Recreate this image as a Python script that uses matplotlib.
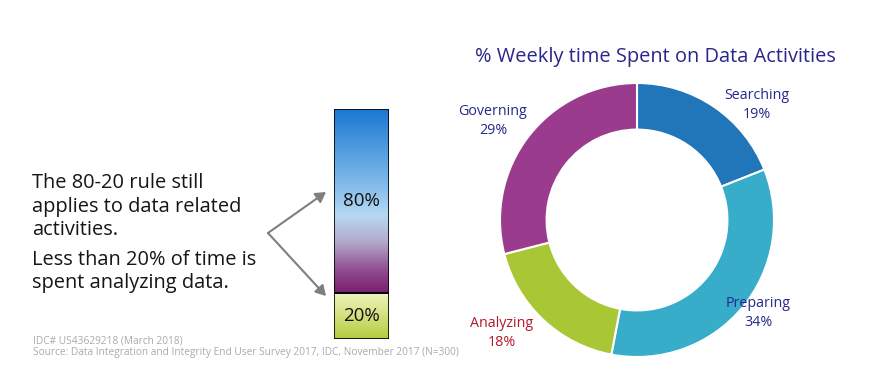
import numpy as np
import matplotlib
matplotlib.use("Agg")
import matplotlib.pyplot as plt
from matplotlib.patches import FancyArrowPatch
from matplotlib.colors import LinearSegmentedColormap

plt.rcParams['font.family'] = ['Open Sans', 'DejaVu Sans']

# --- data ---
activities = ["Searching", "Preparing", "Analyzing", "Governing"]
shares = [19, 34, 18, 29]
colores = ["#2176BA", "#38ADCA", "#A9C634", "#9A3B8D"]
label_colores = ["#27278C", "#27278C", "#B3182B", "#27278C"]

bar_values = [20, 80]          # analyzing / everything else
bar_labels = ["20%", "80%"]

W, H = 875, 383
fig = plt.figure(figsize=(W / 100, H / 100), dpi=100)
fig.patch.set_facecolor("white")

# --- donut ---
cx, cy, r = 637, 220, 137
half = 140
ax = fig.add_axes([(cx - half) / W, (H - cy - half) / H, 2 * half / W, 2 * half / H])
ax.pie(shares, colors=colores, startangle=90, counterclock=False, radius=1,
       wedgeprops=dict(width=0.34, edgecolor="white", linewidth=1.5))
ax.set_xlim(-half / r, half / r)
ax.set_ylim(-half / r, half / r)
ax.set_aspect("equal")
ax.axis("off")

# etiquetas del donut (posiciones en pixeles)
posiciones = [(757, 105), (758, 313), (502, 333), (493, 121)]
for nombre, val, col, (px, py) in zip(activities, shares, label_colores, posiciones):
    fig.text(px / W, 1 - py / H, f"{nombre}\n{val}%", color=col, fontsize=10.3,
             ha="center", va="center", linespacing=1.35)

fig.text(655 / W, 1 - 57 / H, "% Weekly time Spent on Data Activities",
         color="#27278C", fontsize=14.4, ha="center", va="center")

# --- barra 80/20 con degradado ---
bx0, bx1, by0, by1 = 334, 389, 109, 339
bax = fig.add_axes([bx0 / W, (H - by1) / H, (bx1 - bx0) / W, (by1 - by0) / H])
bax.set_xlim(-0.5, 0.5)
bax.set_ylim(0, sum(bar_values))
bax.axis("off")

cmap_top = LinearSegmentedColormap.from_list("top", [
    (0.0, "#7B1E6E"), (0.12, "#8E4C8E"), (0.28, "#B4AACB"),
    (0.42, "#B7D8F2"), (0.6, "#7FB9EA"), (1.0, "#1A78D2")])
cmap_bot = LinearSegmentedColormap.from_list("bot", [
    (0.0, "#B3CB3E"), (0.6, "#D9E48A"), (1.0, "#EFF3BE")])

bottom = 0
for val, lab, cm in zip(bar_values, bar_labels, [cmap_bot, cmap_top]):
    rect = bax.bar(0, val, bottom=bottom, width=1, color="none",
                   edgecolor="black", linewidth=1.2, zorder=3)[0]
    grad = np.linspace(0, 1, 256).reshape(-1, 1)
    im = bax.imshow(grad, cmap=cm, origin="lower", aspect="auto",
                    extent=(-0.5, 0.5, bottom, bottom + val), zorder=2)
    im.set_clip_path(rect)
    bax.text(0, bottom + val / 2, lab, ha="center", va="center",
             fontsize=13.5, color="#111111", zorder=4)
    bottom += val

# --- flechas ---
for tip in [(326, 192), (326, 296)]:
    fig.add_artist(FancyArrowPatch(
        (268 / W, 1 - 233 / H), (tip[0] / W, 1 - tip[1] / H),
        transform=fig.transFigure, arrowstyle="-|>,head_length=6,head_width=3.5",
        color="#7F7F7F", linewidth=1.5, shrinkA=0, shrinkB=0))

# --- texto izquierda (va=baseline -> ultima linea) ---
fig.text(32 / W, 1 - 235 / H, "The 80-20 rule still\napplies to data related\nactivities.",
         fontsize=14.4, color="#161616", ha="left", va="baseline", linespacing=1.22)
fig.text(32 / W, 1 - 288 / H, "Less than 20% of time is\nspent analyzing data.",
         fontsize=14.4, color="#161616", ha="left", va="baseline", linespacing=1.22)

# --- fuente ---
fig.text(33 / W, 1 - 341 / H, "IDC# US43629218 (March 2018)",
         fontsize=7.3, color="#AAAAAA", ha="left", va="center")
fig.text(33 / W, 1 - 353 / H,
         "Source: Data Integration and Integrity End User Survey 2017, IDC, November 2017 (N=300)",
         fontsize=7.3, color="#AAAAAA", ha="left", va="center")

fig.savefig("out.png", dpi=100)
